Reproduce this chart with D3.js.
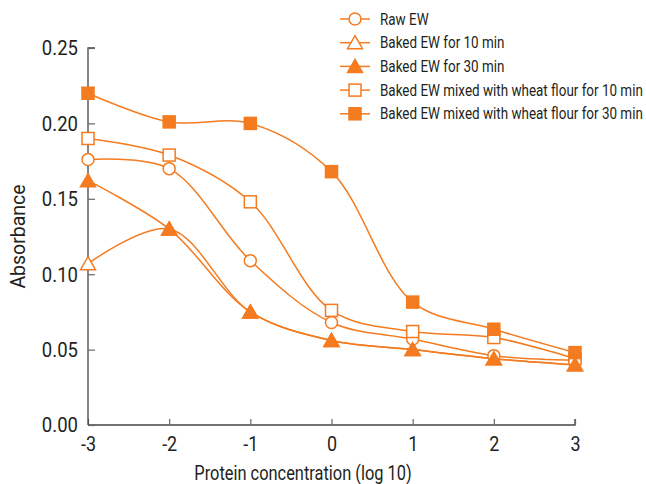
<!DOCTYPE html>
<html>
<head>
<meta charset="utf-8">
<script src="https://cdn.jsdelivr.net/npm/d3@7"></script>
<style>
  body { margin: 0; background: #fff; }
  svg text { font-family: Roboto, "Liberation Sans", sans-serif; fill: #231f20; }
</style>
</head>
<body>
<div id="chart"></div>
<script>
const concentrations = [-3, -2, -1, 0, 1, 2, 3];
const yTicks = [0, 0.05, 0.10, 0.15, 0.20, 0.25];

const rawEW = [0.176, 0.170, 0.109, 0.068, 0.057, 0.046, 0.043];
const baked10 = [0.107, 0.130, 0.075, 0.056, 0.050, 0.044, 0.040];
const baked30 = [0.162, 0.130, 0.075, 0.056, 0.050, 0.044, 0.040];
const wheat10 = [0.190, 0.179, 0.148, 0.076, 0.062, 0.058, 0.044];
const wheat30 = [0.220, 0.201, 0.200, 0.168, 0.0815, 0.0635, 0.048];

const seriesNames = [
  'Raw EW',
  'Baked EW for 10 min',
  'Baked EW for 30 min',
  'Baked EW mixed with wheat flour for 10 min',
  'Baked EW mixed with wheat flour for 30 min'
];
const seriesValues = [rawEW, baked10, baked30, wheat10, wheat30];
const markers = ['circle', 'triangle', 'triangle', 'square', 'square'];
const filled = [false, false, true, false, true];

const orange = '#f47b20';
const width = 646, height = 484;
const margin = { top: 48, right: 71, bottom: 59, left: 88 };
const innerW = width - margin.left - margin.right;
const innerH = height - margin.top - margin.bottom;

const svg = d3.select('#chart').append('svg')
  .attr('width', width).attr('height', height);

const x = d3.scaleLinear().domain([-3, 3]).range([margin.left, margin.left + innerW]);
const y = d3.scaleLinear().domain([0, 0.25]).range([margin.top + innerH, margin.top]);

// no condensed font installed: squeeze each text to a share of its natural width
function squeeze(sel, s) {
  sel.each(function () {
    const w = this.getComputedTextLength();
    d3.select(this).attr('textLength', w * s).attr('lengthAdjust', 'spacingAndGlyphs');
  });
}

// axes
const xAxis = svg.append('g')
  .attr('transform', `translate(0,${margin.top + innerH})`)
  .call(d3.axisTop(x).tickValues(concentrations).tickSize(6).tickFormat(d3.format('d')));
xAxis.selectAll('text').remove();
xAxis.selectAll('.tick').append('text')
  .attr('y', 26).attr('text-anchor', 'middle')
  .style('font-size', '19.5px')
  .text(d => d);
squeeze(xAxis.selectAll('.tick text'), 0.92);

const yAxis = svg.append('g')
  .attr('transform', `translate(${margin.left},0)`)
  .call(d3.axisRight(y).tickValues(yTicks).tickSize(7).tickFormat(d3.format('.2f')));
yAxis.selectAll('text')
  .attr('x', -10).attr('text-anchor', 'end').attr('dy', '0.35em')
  .style('font-size', '19.5px');
squeeze(yAxis.selectAll('text'), 0.95);

[xAxis, yAxis].forEach(a => {
  a.select('.domain').attr('stroke', '#444').attr('stroke-width', 1.3);
  a.selectAll('.tick line').attr('stroke', '#666').attr('stroke-width', 1.2);
});
xAxis.select('.domain').attr('d', `M${x(-3)},0H${x(3)}V-6`);
yAxis.select('.domain').attr('d', `M7,${y(0.25)}H0V${y(0)}`);

const xTitle = svg.append('text')
  .attr('x', 303).attr('y', height - 4)
  .attr('text-anchor', 'middle').style('font-size', '20.5px')
  .text('Protein concentration (log 10)');
squeeze(xTitle, 0.8);

const yTitle = svg.append('text')
  .attr('transform', `translate(25,${y(0.125)}) rotate(-90)`)
  .attr('text-anchor', 'middle').style('font-size', '20.5px')
  .text('Absorbance');
squeeze(yTitle, 0.95);

const line = d3.line()
  .x((d, i) => x(concentrations[i]))
  .y(d => y(d))
  .curve(d3.curveCatmullRom.alpha(0.5));

function drawMarker(g, type, isFilled) {
  const fill = isFilled ? orange : '#fff';
  if (type === 'circle') {
    g.append('circle').attr('r', 6);
  } else if (type === 'square') {
    g.append('rect').attr('x', -6).attr('y', -6).attr('width', 12).attr('height', 12);
  } else {
    g.append('path').attr('d', 'M0,-7L7.5,6L-7.5,6Z');
  }
  g.selectAll('*').attr('fill', fill).attr('stroke', orange).attr('stroke-width', 1.5);
}

const order = [1, 0, 3, 2, 4];
order.forEach(k => {
  const vals = seriesValues[k];
  svg.append('path')
    .datum(vals)
    .attr('d', line)
    .attr('fill', 'none')
    .attr('stroke', orange)
    .attr('stroke-width', 1.5);
});
order.forEach(k => {
  seriesValues[k].forEach((v, i) => {
    const g = svg.append('g').attr('transform', `translate(${x(concentrations[i])},${y(v)})`);
    drawMarker(g, markers[k], filled[k]);
  });
});

// legend
const legend = svg.append('g').attr('transform', 'translate(340,19)');
seriesNames.forEach((name, k) => {
  const row = legend.append('g').attr('transform', `translate(0,${k * 23.7})`);
  row.append('line').attr('x1', 0).attr('x2', 30)
    .attr('stroke', orange).attr('stroke-width', 1.5);
  const m = row.append('g').attr('transform', 'translate(15,0)');
  drawMarker(m, markers[k], filled[k]);
  const t = row.append('text').attr('x', 40).attr('dy', '0.35em')
    .style('font-size', '16px').text(name);
  squeeze(t, 0.84);
});
</script>
</body>
</html>
